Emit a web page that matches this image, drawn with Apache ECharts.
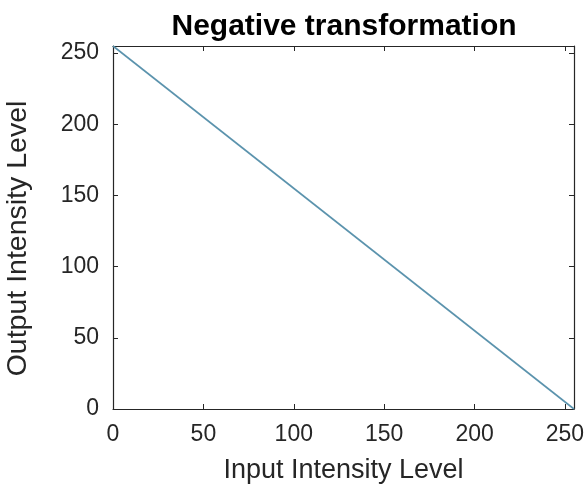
<!DOCTYPE html>
<html lang="en">
<head>
    <meta charset="UTF-8">
    <title>Negative transformation</title>
    <style>
        * { padding: 0; margin: 0; box-sizing: border-box; }
        html, body, #chart { width: 100%; height: 100%; background: #fff; }
    </style>
</head>
<body>
    <div id="chart"></div>
    <script src="https://cdn.jsdelivr.net/npm/echarts@6/dist/echarts.min.js"></script>
    <script>
        // input / output intensity: s = 255 - r
        const inputLevel = [0, 255]
        const outputLevel = [255, 0]
        const tickInterval = 50

        const points = inputLevel.map((r, i) => [r, outputLevel[i]])

        const chart = echarts.init(document.getElementById('chart'))
        const font = 'Liberation Sans, Arial, sans-serif'
        const axisColor = '#262626'

        function axisBase(extra) {
            return Object.assign({
                type: 'value',
                min: 0,
                max: 255,
                interval: tickInterval,
                axisLine: { show: true, onZero: false, lineStyle: { color: axisColor, width: 1.2 } },
                axisTick: { show: true, inside: true, length: 5, lineStyle: { color: axisColor } },
                splitLine: { show: false },
                axisLabel: { show: false }
            }, extra)
        }

        const option = {
            backgroundColor: '#fff',
            title: {
                text: 'Negative transformation',
                left: 339,
                textAlign: 'center',
                top: 7,
                textStyle: { fontFamily: font, fontSize: 30, fontWeight: 'bold', color: '#000' }
            },
            grid: { left: 113, right: 14, top: 46, bottom: 85, containLabel: false, outerBoundsMode: 'none' },
            xAxis: [
                axisBase({
                    position: 'bottom',
                    name: 'Input Intensity Level',
                    nameLocation: 'middle',
                    nameGap: 48,
                    nameTextStyle: { fontFamily: font, fontSize: 27, color: '#262626' },
                    axisLabel: { show: true, showMaxLabel: false, margin: 14, fontFamily: font, fontSize: 23, color: '#262626',
                        formatter: v => v % tickInterval === 0 ? v : '' }
                }),
                axisBase({ position: 'top' })
            ],
            yAxis: [
                axisBase({
                    position: 'left',
                    name: 'Output Intensity Level',
                    nameLocation: 'middle',
                    nameGap: 80,
                    nameTextStyle: { fontFamily: font, fontSize: 28.5, color: '#262626', padding: [0, 22, 0, 0] },
                    axisLabel: { show: true, showMaxLabel: false, margin: 14, fontFamily: font, fontSize: 23, color: '#262626',
                        formatter: v => v % tickInterval === 0 ? v : '' }
                }),
                axisBase({ position: 'right' })
            ],
            series: [{
                type: 'line',
                data: points,
                symbol: 'none',
                lineStyle: { color: '#5b93ad', width: 1.6 }
            }]
        }
        chart.setOption(option)
    </script>
</body>
</html>
